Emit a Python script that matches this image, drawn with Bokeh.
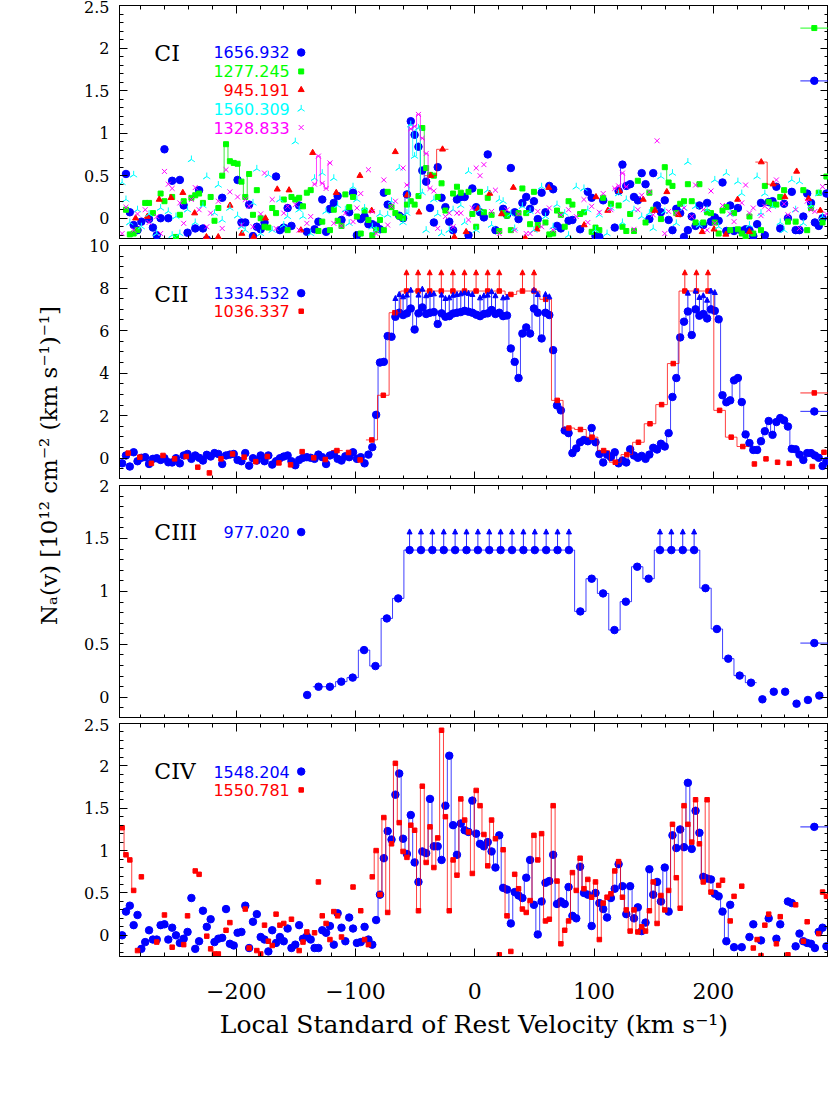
import numpy as np
from bokeh.plotting import figure
from bokeh.layouts import column, row
from bokeh.models import (Range1d, LinearAxis, FixedTicker, ColumnDataSource, Arrow,
                          NormalHead, PrintfTickFormatter, CustomJSTickFormatter)
from bokeh.core.properties import value
from bokeh.embed import file_html
from bokeh.resources import INLINE

# ---------------- data ----------------
# fine (STIS-like) velocity grid: first velocity and bin width, km/s
fine_v0, fine_dv = -295.6, 3.226
# FUSE-like grids
ci945_v0, ci945_dv = -284.3, 9.895
cii1036_v0, cii1036_dv = -290.5, 9.72
ciii_v0, ciii_dv = -140.5, 9.54

ci_1656 = [-0.3, 0.52, 0.07, -0.08, -0.14, -0.04, -0.3, -0.01, -0.11, -0.2, 0.0, 0.81, 0.0, 0.44, -0.3, 0.45, 0.15, -0.17, -0.3, -0.12,
           0.33, -0.12, -0.25, -0.3, -0.4, -0.3, 0.24, -0.3, -0.35, -0.3, 0.45, -0.05, -0.05, 0.16, -0.21, -0.1, -0.13, -0.05, -0.3, -0.35,
           0.49, -0.14, -0.11, 0.12, -0.09, -0.3, 0.15, -0.3, -0.16, -0.3, -0.13, -0.04, 0.22, -0.16, 0.11, 0.18, 0.26, -0.02, -0.3, 0.07,
           0.3, -0.2, -0.01, 0.02, -0.07, -0.07, -0.09, -0.13, 0.3, 0.16, -0.3, -0.35, 0.03, 0.0, 0.28, 1.14, 0.98, 0.84, 0.56, 0.43,
           0.12, -0.05, 0.6, 0.24, 0.13, -0.04, -0.14, 0.22, 0.25, 0.25, -0.2, 0.35, 0.13, 0.07, 0.01, 0.75, -0.3, -0.14, -0.3, 0.11,
           0.04, 0.59, 0.07, -0.01, 0.18, 0.25, 0.11, 0.2, -0.01, 0.3, 0.07, 0.38, 0.34, -0.09, -0.12, -0.3, -0.03, -0.02, -0.3, -0.13,
           -0.3, 0.31, 0.24, -0.21, -0.22, 0.21, -0.3, -0.35, -0.11, 0.32, 0.63, 0.38, 0.4, 0.25, 0.21, 0.53, 0.4, -0.01, 0.53, 0.15,
           0.07, 0.21, -0.02, -0.14, 0.11, 0.06, -0.22, -0.14, 0.02, -0.09, 0.15, -0.08, 0.18, -0.04, 0.01, -0.03, 0.42, -0.15, 0.15, -0.15,
           0.12, -0.15, -0.13, -0.14, -0.21, -0.07, 0.18, -0.2, 0.19, 0.2, 0.37, -0.12, 0.17, 0.0, 0.31, -0.14, -0.14, 0.02, 0.29, 0.18,
           -0.05, -0.09, 0.0, 0.29]
ci_1277 = [-0.3, 0.1, -0.19, -0.18, -0.14, -0.3, 0.18, 0.18, 0.06, -0.3, 0.29, 0.2, -0.3, 0.25, -0.22, 0.04, 0.2, -0.3, 0.24, 0.27,
           0.29, 0.18, -0.3, 0.25, -0.03, 0.12, 0.5, 0.87, 0.67, 0.65, 0.64, 0.43, 0.25, 0.52, 0.04, 0.33, 0.0, -0.1, -0.11, 0.12,
           0.06, -0.3, 0.22, -0.14, 0.25, 0.22, 0.24, 0.14, 0.3, 0.33, -0.3, -0.15, -0.04, -0.3, -0.14, 0.1, -0.03, -0.09, 0.28, 0.13,
           0.25, 0.02, -0.18, 0.09, -0.02, -0.2, -0.14, -0.02, -0.14, 0.31, 0.13, 0.06, 0.02, 0.0, 0.16, 0.2, 0.16, 0.26, 1.06, 0.59,
           0.51, 0.5, 0.25, 0.41, 0.09, -0.3, 0.29, 0.37, 0.3, -0.3, 0.31, 0.05, -0.1, 0.31, 0.07, 0.24, 0.04, -0.3, -0.15, 0.06,
           0.03, -0.14, -0.3, 0.06, 0.35, 0.06, -0.07, 0.31, -0.08, -0.3, -0.05, -0.19, -0.18, 0.09, 0.04, -0.1, 0.2, 0.16, -0.3, 0.05,
           0.07, -0.3, -0.16, -0.11, -0.14, 0.24, -0.3, 0.17, -0.3, 0.15, -0.1, -0.15, 0.05, -0.15, 0.44, -0.3, -0.05, 0.3, 0.1, -0.3,
           -0.01, 0.6, 0.42, 0.38, 0.06, 0.17, 0.2, 0.4, 0.2, -0.05, 0.4, -0.05, 0.07, 0.06, -0.05, -0.18, 0.09, 0.13, -0.14, 0.06,
           -0.13, -0.18, -0.22, 0.02, -0.18, -0.3, -0.14, 0.38, 0.19, 0.16, 0.16, 0.25, 0.33, -0.04, -0.3, -0.04, -0.3, 0.33, -0.14, 0.12,
           -0.3, 0.3, -0.05, 0.49]
ci_945 = [0.0, 0.02, 0.22, 0.24, 0.3, 0.06, -0.22, -0.22, 0.15, -0.18, -0.22, 0.0, 0.34, 0.33, -0.14, 0.77, -0.3, 0.3, -0.3, 0.5,
          0.09, -0.3, 0.78, 0.27, 0.07, 0.5, 0.81, -0.22, -0.16, 0.11, 0.29, 0.05, 0.36, -0.23, -0.13, 0.36, -0.3, -0.3, -0.08, 0.25,
          0.09, 0.32, -0.3, 0.22, 0.09, 0.31, 0.04, -0.3, -0.16, -0.13, -0.19, 0.22, -0.16, 0.66, 0.4, 0.25, 0.55, 0.23, 0.09]
ci_1560 = [0.42, 0.22, -0.05, 0.51, 0.1, -0.1, -0.3, 0.05, -0.3, -0.18, 0.12, -0.3, 0.08, -0.2, 0.02, -0.18, -0.3, 0.1, 0.69, -0.05,
           -0.3, 0.15, 0.49, -0.3, 0.06, 0.39, -0.02, -0.3, 0.12, -0.3, 0.03, -0.1, -0.14, -0.3, 0.18, 0.58, -0.18, -0.3, 0.51, -0.14,
           -0.3, 0.22, -0.08, 0.02, -0.3, 0.9, 0.1, 0.02, -0.3, -0.18, 0.47, -0.3, 0.53, 0.08, -0.3, 0.47, 0.15, -0.3, 0.1, -0.06,
           0.37, 0.22, -0.3, 0.12, -0.3, -0.1, -0.14, 0.05, -0.3, 0.04, 0.2, -0.3, 0.59, -0.05, 0.06, 1.1, 0.73, 1.06, 0.3, -0.14,
           -0.3, 0.22, 0.05, -0.18, -0.3, -0.14, 0.1, -0.3, 0.15, -0.05, 0.55, -0.3, -0.14, 0.1, -0.3, 0.33, -0.08, -0.3, 0.22, 0.2,
           -0.3, 0.05, -0.12, -0.3, 0.14, -0.3, 0.08, -0.14, -0.3, 0.37, 0.02, -0.3, -0.1, 0.16, -0.3, 0.06, -0.2, -0.3, 0.37, -0.3,
           0.35, 0.1, -0.3, -0.14, 0.04, -0.3, -0.18, 0.12, -0.3, 0.29, -0.05, 0.22, -0.3, 0.1, -0.3, 0.02, -0.3, 0.06, -0.12, -0.3,
           0.49, 0.08, -0.3, 0.53, -0.06, -0.3, 0.12, 0.66, -0.3, 0.14, -0.08, -0.3, 0.1, -0.3, 0.45, -0.1, -0.3, 0.53, 0.05, -0.3,
           0.43, 0.29, -0.3, -0.08, -0.3, 0.49, 0.06, 0.29, -0.3, 0.14, -0.3, -0.05, -0.14, -0.3, 0.45, 0.1, 0.43, -0.06, -0.3, 0.15,
           -0.3, 0.29, 0.02, -0.3]
ci_1328 = [-0.18, 0.13, -0.3, -0.14, 0.05, -0.3, 0.1, -0.05, -0.3, 0.02, -0.18, 0.55, 0.4, 0.35, -0.3, 0.18, -0.06, -0.3, 0.22, 0.36,
           0.1, -0.3, -0.1, 0.06, -0.3, 0.2, -0.12, 0.57, 0.31, -0.3, 0.25, -0.08, 0.22, 0.14, -0.1, -0.3, 0.05, 0.53, -0.3, 0.22,
           -0.12, -0.3, 0.06, 0.14, -0.3, 0.16, -0.14, -0.3, -0.06, 0.02, 0.4, 0.73, 0.41, 0.35, 0.65, -0.06, -0.3, -0.09, 0.06, -0.3,
           -0.04, 0.12, 0.29, -0.3, 0.57, 0.08, -0.18, -0.3, 0.45, -0.08, 0.14, 0.2, -0.3, 0.59, 0.39, 1.05, 1.08, 1.22, 0.94, 0.76,
           0.35, 0.32, -0.12, -0.3, 0.02, 0.06, -0.1, 0.06, 0.06, -0.3, -0.02, 0.12, 0.59, 0.5, 0.63, -0.3, 0.08, 0.33, -0.18, -0.3,
           0.1, -0.3, -0.14, 0.05, -0.3, -0.18, -0.18, -0.3, 0.08, -0.1, -0.3, 0.12, -0.14, -0.3, 0.04, -0.3, 0.1, -0.3, 0.02, -0.3,
           0.22, -0.05, 0.14, -0.3, 0.07, 0.29, -0.3, 0.1, 0.35, 0.38, 0.53, 0.37, -0.3, -0.13, 0.1, 0.27, -0.3, 0.31, 0.04, 0.91,
           -0.3, -0.18, 0.08, -0.3, 0.06, -0.3, 0.12, -0.3, 0.02, 0.39, -0.3, 0.1, -0.14, 0.32, -0.06, -0.3, 0.15, -0.3, 0.05, -0.04,
           -0.3, 0.18, 0.39, 0.06, 0.12, -0.3, 0.03, 0.14, 0.1, -0.3, 0.45, -0.3, 0.17, 0.04, -0.3, 0.1, -0.12, -0.3, 0.2, 0.1,
           0.08, -0.3, 0.37, 0.05]

cii_1334 = [-0.24, 0.13, -0.39, 0.28, -0.14, 0.02, 0.05, -0.27, -0.03, 0.0, -0.08, 0.0, -0.19, -0.2, 0.0, -0.24, 0.13, 0.2, -0.03, 0.13,
            0.02, -0.11, 0.16, 0.08, 0.24, 0.2, -0.27, 0.13, 0.17, 0.2, -0.08, -0.14, 0.24, -0.35, 0.0, -0.11, 0.13, -0.14, 0.13, -0.3,
            -0.14, 0.0, 0.08, 0.13, -0.14, -0.33, -0.08, 0.02, 0.05, 0.02, -0.03, 0.17, 0.05, -0.27, 0.13, 0.2, -0.03, -0.11, 0.09, 0.05,
            0.28, -0.03, 0.05, -0.24, 0.17, 0.52, 2.04, 4.5, 4.53, 5.74, 5.71, 6.65, 6.84, 6.73, 6.81, 7.04, 6.05, 6.81, 7.09, 6.78,
            6.84, 6.87, 6.31, 6.81, 6.65, 6.68, 6.8, 6.84, 6.87, 6.93, 6.89, 6.84, 6.75, 6.68, 6.78, 6.81, 6.97, 6.78, 6.84, 6.68,
            6.71, 5.16, 4.53, 3.77, 5.86, 6.15, 5.86, 7.04, 6.84, 5.63, 6.84, 6.73, 5.08, 2.48, 2.25, 1.3, 1.18, 0.24, 0.46, 0.75,
            0.86, 0.8, 1.42, 0.75, 0.2, -0.2, 0.17, 0.05, 0.28, -0.24, -0.11, -0.2, 0.42, 0.13, 0.02, 0.11, -0.03, 0.17, 0.49, 0.41,
            0.68, 0.55, 1.18, 2.88, 3.77, 5.68, 6.42, 6.9, 5.79, 7.0, 6.7, 6.78, 6.57, 7.0, 6.93, 6.53, 2.96, 2.63, 2.72, 3.66,
            3.77, 2.64, 1.12, 0.71, 0.39, 0.39, 0.8, 1.27, 1.75, 1.1, 1.7, 1.89, 1.78, 1.49, 0.44, 0.42, 0.17, -0.08, 0.24, 0.24,
            0.13, 0.02, -0.36, -0.14]
cii_1334_saturated = [71, 72, 73, 74, 75, 77, 78, 79, 80, 81, 83, 84, 85, 86, 87, 88, 89, 90, 91, 93, 94, 95, 96, 97, 99, 100,
                      107, 108, 110, 111, 147, 149, 150, 151, 152, 153, 154]
cii_1036 = [0.24, 0.05, -0.24, 0.13, -0.03, 0.08, -0.42, -0.69, -0.03, 0.2, 0.05, -0.16, 0.08, -0.22, -0.31, 0.31, 0.02, -0.06, 0.36, 0.27,
            -0.08, 0.86, 2.96, 6.84, 7.86, 7.86, 7.86, 7.86, 7.86, 7.86, 7.86, 7.86, 7.86, 7.7, 7.86, 7.86, 7.47, 2.72, 1.42, 1.35,
            0.99, 0.36, -0.19, 0.17, 0.75, 1.62, 2.52, 4.45, 7.86, 7.86, 7.86, 2.25, 0.99, 0.55, -0.27, -0.03, -0.19, -0.24, -1.3, -0.39,
            0.28]
cii_1036_saturated = [24, 25, 26, 27, 28, 29, 30, 31, 32, 34, 35, 48, 49, 50]

ciii_977 = [0.022, 0.10, 0.10, 0.148, 0.186, 0.446, 0.295, 0.745, 0.934, 1.39, 1.39, 1.39, 1.39, 1.39, 1.39, 1.39, 1.39, 1.39, 1.39, 1.39,
            1.39, 1.39, 1.39, 1.39, 0.811, 1.12, 0.981, 0.635, 0.903, 1.233, 1.12, 1.39, 1.39, 1.39, 1.39, 1.031, 0.645, 0.365, 0.205, 0.138,
            -0.019, 0.053, 0.053, -0.06, -0.025, 0.016]
ciii_977_saturated = [9, 10, 11, 12, 13, 14, 15, 16, 17, 18, 19, 20, 21, 22, 23, 31, 32, 33, 34]

civ_1548 = [0.0, 0.28, 0.35, 0.12, 0.24, -0.16, -0.08, 0.06, -0.05, -0.05, 0.12, 0.13, -0.05, 0.09, 0.0, -0.09, -0.04, 0.04, 0.44, -0.16,
            -0.07, 0.29, 0.1, 0.19, -0.08, -0.04, -0.03, 0.31, -0.1, -0.12, 0.03, 0.04, 0.35, -0.15, 0.16, 0.25, -0.02, -0.05, -0.19, 0.06,
            -0.09, -0.02, -0.07, 0.08, -0.15, -0.11, 0.12, -0.04, -0.01, -0.05, -0.15, -0.15, 0.06, 0.03, 0.11, -0.11, 0.26, 0.09, -0.07, 0.21,
            0.08, -0.09, -0.08, 0.1, -0.05, -0.11, 0.18, 0.48, 0.91, 1.23, 1.13, 1.66, 1.91, 1.14, 0.96, 1.42, 0.86, 0.63, 0.99, 0.97,
            1.61, 1.05, 1.05, 0.89, 1.53, 2.12, 1.3, 0.95, 1.32, 1.24, 1.22, 1.59, 1.2, 1.08, 1.05, 1.1, 0.99, 0.8, 1.18, 0.56,
            0.54, 0.14, 0.51, 0.47, 0.44, 0.68, 0.89, 0.36, 0.01, 0.4, 0.62, 0.64, 0.95, 0.37, 0.4, 0.37, 0.57, 0.23, 0.2, 0.81,
            0.5, 0.48, 0.11, 0.5, 0.38, 0.31, 0.21, 0.44, 0.55, 0.84, 0.58, 0.25, 0.58, 0.2, 0.33, 0.05, 0.15, 0.78, 0.48, 0.63,
            0.4, 0.8, 0.28, 1.18, 1.03, 1.25, 1.04, 1.8, 1.02, 1.47, 1.21, 0.69, 0.67, 0.66, 0.49, 0.46, 0.28, -0.07, 0.36, -0.14,
            -0.3, -0.14, -0.3, -0.02, 0.13, -0.3, -0.06, -0.3, 0.2, -0.3, -0.04, 0.13, -0.3, 0.4, 0.38, -0.13, 0.02, -0.07, -0.09, -0.1,
            -0.15, 0.04, 0.09, -0.13]
civ_1550 = [1.27, 0.95, 0.89, 0.53, -0.18, 0.69, -0.3, -0.35, -0.3, -0.08, -0.3, 0.24, -0.3, -0.14, -0.3, -0.4, -0.11, 0.23, -0.3, 0.76,
            0.72, -0.3, -0.01, -0.16, -0.22, -0.22, -0.3, 0.06, 0.15, -0.3, -0.35, -0.3, 0.31, -0.15, -0.3, -0.18, -0.22, 0.12, -0.07, -0.12,
            0.25, 0.12, 0.14, -0.3, 0.19, -0.3, -0.18, -0.08, 0.04, -0.3, 0.03, 0.63, 0.23, 0.14, -0.05, 0.28, 0.23, -0.02, -0.3, -0.35,
            0.57, -0.3, 0.29, -0.05, -0.11, 0.69, 1.0, 0.48, 1.39, 0.27, 1.08, 2.03, 1.33, 0.99, 0.92, 1.3, 1.24, 0.29, 1.76, 0.86,
            1.28, 0.8, 1.15, 2.42, 1.4, 0.29, 0.89, 0.71, 1.61, 1.36, 1.22, 0.73, 1.71, 1.53, 1.19, 0.82, 1.36, 1.14, -0.23, 1.01,
            0.23, -0.19, 0.72, 0.55, 0.31, 0.27, 0.41, 1.18, 0.89, 1.2, 0.17, 0.19, 1.53, 0.64, -0.1, 0.06, 0.17, 0.74, 0.53, 0.91,
            0.55, 0.66, 0.45, 0.63, -0.05, 0.38, 0.45, 0.49, 0.76, 0.87, 0.45, 0.3, 0.05, 0.3, 0.04, 0.1, 0.05, 0.29, 0.63, 0.14,
            0.47, 0.3, 0.53, 1.31, 0.68, 0.32, 1.53, 1.31, 1.1, 1.6, 1.08, 0.63, 1.6, 0.51, -0.3, 0.59, 0.65, -0.3, 0.17, 0.46,
            -0.3, 0.58, -0.3, -0.35, -0.15, -0.05, -0.24, 0.12, 0.25, -0.3, -0.1, 0.22, -0.3, -0.23, -0.3, 0.36, -0.3, -0.07, 0.16, -0.3,
            -0.35, 0.02, 0.51, 0.46]

# index ranges over which each profile is drawn as a histogram line
ci_1656_line = [(73, 79), (129, 130)]
ci_1277_line = [(26, 33), (77, 81), (141, 142)]
ci_945_line = [(25, 26), (53, 54)]
ci_1560_line = [(74, 78)]
ci_1328_line = [(50, 54), (74, 80), (128, 131)]
cii_1334_line = [(64, 174)]
cii_1036_line = [(18, 18), (21, 53)]
ciii_977_line = [(1, 39)]
civ_1548_line = [(66, 158)]
civ_1550_line = [(0, 3), (65, 97), (99, 100), (102, 153)]

# resolution markers at the right edge of each panel (velocity, value)
res_v = 284.6
res_half = 11.7
res_ci = [2.235, 1.615]        # 1277 (green), 1656 (blue)
res_cii = [3.07, 2.2]          # 1036 (red), 1334 (blue)
res_ciii = [0.512]
res_civ = [1.28]

# ---------------- styling ----------------
BLUE, GREEN, RED, CYAN, MAG = "#0000ff", "#00e000", "#ff0000", "#00ffff", "#ff00ff"
GREEN_M = "#00ff00"
SERIF = "DejaVu Serif"
SANS = "DejaVu Sans"
XMIN, XMAX = -297.8, 296.5
FRAME_W = 709


def grid(v0, dv, vals):
    return v0 + dv * np.arange(len(vals))


def hist_paths(v, vals, segs, dv):
    xs, ys = [], []
    for a, b in segs:
        x, y = [], []
        for i in range(a, min(b, len(vals) - 1) + 1):
            x += [v[i] - dv / 2, v[i] + dv / 2]
            y += [vals[i], vals[i]]
        xs.append(x)
        ys.append(y)
    return xs, ys


def style_axis(ax, show_labels=False, font_size="16px", standoff=10):
    ax.major_tick_in = 8
    ax.major_tick_out = 0
    ax.minor_tick_in = 4
    ax.minor_tick_out = 0
    ax.axis_line_color = "black"
    ax.major_tick_line_color = "black"
    ax.minor_tick_line_color = "black"
    ax.axis_line_width = 1
    if show_labels:
        ax.major_label_text_font = SERIF
        ax.major_label_text_font_size = font_size
        ax.major_label_text_color = "black"
        ax.major_label_standoff = standoff
    else:
        ax.major_label_text_font_size = "0px"
        ax.major_label_text_color = None
        ax.major_label_standoff = 0


def make_panel(ylo, yhi, ymajor, yminor, frame_h, top_b, bot_b, show_x=False):
    p = figure(frame_width=FRAME_W, frame_height=frame_h,
               x_range=Range1d(XMIN, XMAX), y_range=Range1d(ylo, yhi),
               output_backend="svg", toolbar_location=None,
               min_border_left=53, min_border_right=0,
               min_border_top=top_b, min_border_bottom=bot_b,
               background_fill_color="white", border_fill_color="white",
               outline_line_color="black")
    p.grid.visible = False
    xt = FixedTicker(ticks=[-200, -100, 0, 100, 200],
                     minor_ticks=[float(t) for t in np.arange(-280, 300, 20)])
    yt = FixedTicker(ticks=ymajor, minor_ticks=yminor)
    top = LinearAxis()
    right = LinearAxis()
    p.add_layout(top, "above")
    p.add_layout(right, "right")
    left = p.left[0]
    bottom = p.below[0]
    for ax in (bottom, top):
        ax.ticker = xt
    for ax in (left, right):
        ax.ticker = yt
    style_axis(left, True, "16px", 10)
    left.formatter = PrintfTickFormatter(format="%g")
    style_axis(right)
    style_axis(top)
    if show_x:
        style_axis(bottom, True, "22px", 26)
        bottom.formatter = CustomJSTickFormatter(
            code="return (tick < 0 ? '\\u2212' : '') + Math.abs(tick).toString();")
        bottom.axis_label = "Local Standard of Rest Velocity (km s\u207b\u00b9)"
        bottom.axis_label_text_font = SERIF
        bottom.axis_label_text_font_size = "25px"
        bottom.axis_label_text_font_style = "normal"
        bottom.axis_label_text_color = "black"
        bottom.axis_label_standoff = 8
    else:
        style_axis(bottom)
    return p


def draw_series(p, v, vals, segs, dv, color, marker, size, line_color=None, angle=0.0):
    xs, ys = hist_paths(v, vals, segs, dv)
    p.multi_line(xs=xs, ys=ys, line_color=line_color or color, line_width=1, line_alpha=0.75)
    p.scatter(x=v, y=vals, marker=marker, size=size, fill_color=color, line_color=color,
              angle=angle, line_width=1)


def draw_arrows(p, v, vals, idx, length, color):
    xs = [float(v[i]) for i in idx]
    ys = [float(vals[i]) for i in idx]
    src = ColumnDataSource(dict(x0=xs, y0=ys, x1=xs, y1=[y + length for y in ys]))
    p.add_layout(Arrow(end=NormalHead(size=5, fill_color=color, line_color=color, line_width=1),
                       x_start="x0", y_start="y0", x_end="x1", y_end="y1", source=src,
                       line_color=color, line_width=1, line_alpha=0.85))


def ion_label(p, x, y, text):
    p.text(x=[x], y=[y], text=[text], text_font=value(SERIF), text_font_size="22px",
           text_color="black", text_align="left", text_baseline="middle")


def legend_entry(p, y, text, color, marker, size, angle=0.0):
    p.text(x=[-155.1], y=[y], text=[text], text_font=value(SANS), text_font_size="16px",
           text_color=color, text_align="right", text_baseline="middle")
    p.scatter(x=[-145.5], y=[y], marker=marker, size=size, fill_color=color,
              line_color=color, angle=angle)


def res_marker(p, y, color, marker, size):
    p.segment(x0=[res_v - res_half], y0=[y], x1=[res_v + res_half], y1=[y],
              line_color=color, line_width=1.2, line_alpha=0.7)
    p.scatter(x=[res_v], y=[y], marker=marker, size=size, fill_color=color, line_color=color)


# ---------------- panel 1 : C I ----------------
p1 = make_panel(-0.25, 2.5, [0, 0.5, 1, 1.5, 2, 2.5],
                [round(t, 2) for t in np.arange(-0.2, 2.5, 0.1)], 234, 5, 0)
v_fine = grid(fine_v0, fine_dv, ci_1656)
draw_series(p1, v_fine, ci_1656, ci_1656_line, fine_dv, BLUE, "circle", 7.5)
draw_series(p1, grid(fine_v0, fine_dv, ci_1277), ci_1277, ci_1277_line, fine_dv, GREEN_M, "square", 5, GREEN)
draw_series(p1, grid(ci945_v0, ci945_dv, ci_945), ci_945, ci_945_line, ci945_dv, RED, "triangle", 6)
draw_series(p1, grid(fine_v0, fine_dv, ci_1560), ci_1560, ci_1560_line, fine_dv, CYAN, "y", 8, angle=np.pi)
draw_series(p1, grid(fine_v0, fine_dv, ci_1328), ci_1328, ci_1328_line, fine_dv, MAG, "x", 7)
ion_label(p1, -268.6, 1.94, "CI")
legend_entry(p1, 1.948, "1656.932", BLUE, "circle", 7.5)
legend_entry(p1, 1.725, "1277.245", GREEN_M, "square", 5)
legend_entry(p1, 1.509, "945.191", RED, "triangle", 6)
legend_entry(p1, 1.285, "1560.309", CYAN, "y", 8, angle=np.pi)
legend_entry(p1, 1.066, "1328.833", MAG, "x", 7)
res_marker(p1, res_ci[0], GREEN_M, "square", 5)
res_marker(p1, res_ci[1], BLUE, "circle", 7.5)

# ---------------- panel 2 : C II ----------------
p2 = make_panel(-1, 10, [0, 2, 4, 6, 8, 10],
                [float(t) for t in np.arange(-0.5, 10, 0.5)], 234, 6, 0)
v_cii_b = grid(fine_v0, fine_dv, cii_1334)
v_cii_r = grid(cii1036_v0, cii1036_dv, cii_1036)
draw_series(p2, v_cii_b, cii_1334, cii_1334_line, fine_dv, BLUE, "circle", 7.5)
draw_arrows(p2, v_cii_b, cii_1334, cii_1334_saturated, 1.0, BLUE)
draw_series(p2, v_cii_r, cii_1036, cii_1036_line, cii1036_dv, RED, "square", 4.5)
draw_arrows(p2, v_cii_r, cii_1036, cii_1036_saturated, 1.0, RED)
ion_label(p2, -268.6, 7.72, "CII")
legend_entry(p2, 7.76, "1334.532", BLUE, "circle", 7.5)
legend_entry(p2, 6.91, "1036.337", RED, "square", 4.5)
res_marker(p2, res_cii[0], RED, "square", 4.5)
res_marker(p2, res_cii[1], BLUE, "circle", 7.5)

# ---------------- panel 3 : C III ----------------
p3 = make_panel(-0.2, 2, [0, 0.5, 1, 1.5, 2],
                [round(t, 2) for t in np.arange(-0.1, 2.0, 0.1)], 233, 6, 0)
v_ciii = grid(ciii_v0, ciii_dv, ciii_977)
draw_series(p3, v_ciii, ciii_977, ciii_977_line, ciii_dv, BLUE, "circle", 7.5)
draw_arrows(p3, v_ciii, ciii_977, ciii_977_saturated, 0.2, BLUE)
ion_label(p3, -268.6, 1.557, "CIII")
legend_entry(p3, 1.56, "977.020", BLUE, "circle", 7.5)
res_marker(p3, res_ciii[0], BLUE, "circle", 7.5)

# ---------------- panel 4 : C IV ----------------
p4 = make_panel(-0.25, 2.5, [0, 0.5, 1, 1.5, 2, 2.5],
                [round(t, 2) for t in np.arange(-0.2, 2.5, 0.1)], 233, 5, 0, show_x=True)
draw_series(p4, grid(fine_v0, fine_dv, civ_1548), civ_1548, civ_1548_line, fine_dv, BLUE, "circle", 7.5)
draw_series(p4, grid(fine_v0, fine_dv, civ_1550), civ_1550, civ_1550_line, fine_dv, RED, "square", 4.5)
ion_label(p4, -268.6, 1.933, "CIV")
legend_entry(p4, 1.933, "1548.204", BLUE, "circle", 7.5)
legend_entry(p4, 1.716, "1550.781", RED, "square", 4.5)
res_marker(p4, res_civ[0], BLUE, "circle", 7.5)

# ---------------- shared y-axis title ----------------
lab = figure(frame_width=66, frame_height=1040, x_range=Range1d(0, 66), y_range=Range1d(0, 1040),
             output_backend="svg", toolbar_location=None, min_border=0,
             x_axis_location=None, y_axis_location=None, outline_line_color=None,
             background_fill_color="white", border_fill_color="white")
lab.grid.visible = False
lab.text(x=[48.5], y=[575], text=["N\u2090(v) [10\u00b9\u00b2 cm\u207b\u00b2 (km s\u207b\u00b9)\u207b\u00b9]"],
         angle=np.pi / 2, text_align="center", text_baseline="middle",
         text_font=value(SERIF), text_font_size="23px", text_color="black")

layout = row(lab, column(p1, p2, p3, p4, spacing=0), spacing=0)
open("out.html", "w").write(file_html(layout, INLINE))
